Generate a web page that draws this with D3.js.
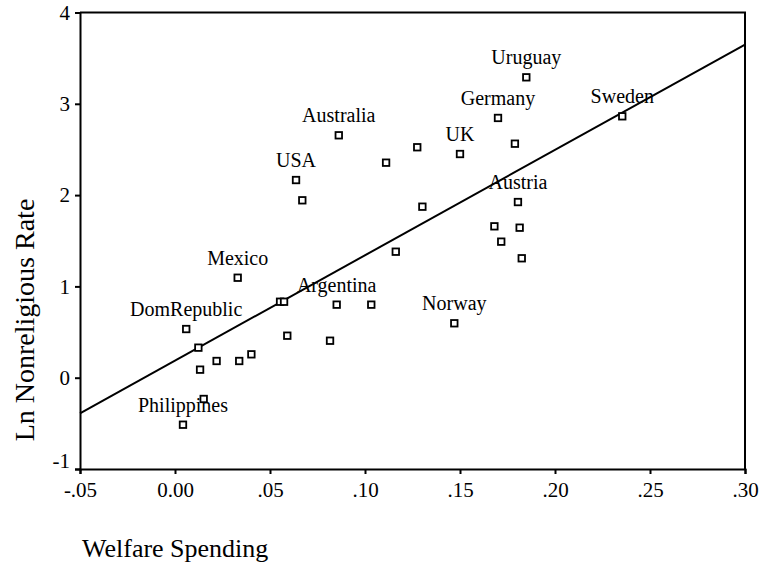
<!DOCTYPE html>
<html>
<head>
<meta charset="utf-8">
<script src="https://cdn.jsdelivr.net/npm/d3@7"></script>
<style>
  html, body { margin: 0; padding: 0; background: #fff; }
  svg { display: block; }
  text { font-family: "Liberation Serif", "Times New Roman", serif; fill: #000; }
</style>
</head>
<body>
<svg id="chart" width="760" height="569"></svg>
<script>
// Country observations: welfare spending vs. log of the nonreligious rate
const countries = [
  "Uruguay", "Germany", "Sweden", "Australia", "UK", "", "", "",
  "USA", "", "", "Austria", "", "", "", "", "", "Mexico", "", "",
  "Argentina", "", "Norway", "DomRepublic", "", "", "", "", "", "",
  "", "", "Philippines"
];
const welfare = [
  0.1849, 0.1700, 0.2354, 0.0862, 0.1500, 0.1275, 0.1111, 0.1789,
  0.0637, 0.0670, 0.1302, 0.1805, 0.1681, 0.1814, 0.1717, 0.1825, 0.1162, 0.0330, 0.0553, 0.0574,
  0.0851, 0.1033, 0.1470, 0.0059, 0.0591, 0.0816, 0.0123, 0.0402, 0.0219, 0.0338,
  0.0132, 0.0151, 0.0042
];
const lnNonreligious = [
  3.290, 2.845, 2.863, 2.655, 2.450, 2.524, 2.355, 2.563,
  2.165, 1.943, 1.873, 1.924, 1.658, 1.643, 1.490, 1.308, 1.380, 1.095, 0.832, 0.832,
  0.800, 0.800, 0.596, 0.533, 0.460, 0.405, 0.329, 0.256, 0.183, 0.183,
  0.088, -0.233, -0.515
];

// Fitted linear trend
const fitIntercept = 0.187;
const fitSlope = 11.54;

// Axis ticks and their labels
const xTicks = [-0.05, 0.00, 0.05, 0.10, 0.15, 0.20, 0.25, 0.30];
const xTickLabels = ["-.05", "0.00", ".05", ".10", ".15", ".20", ".25", ".30"];
const yTicks = [-1, 0, 1, 2, 3, 4];
const yTickLabels = ["-1", "0", "1", "2", "3", "4"];

const xTitle = "Welfare Spending";
const yTitle = "Ln Nonreligious Rate";

const svg = d3.select("#chart");
const plot = { left: 80, right: 745, top: 12.5, bottom: 469 };

const x = d3.scaleLinear().domain([-0.05, 0.30]).range([plot.left, plot.right]);
const y = d3.scaleLinear().domain([-1, 4]).range([plot.bottom, plot.top]);

// Frame: top and right edges
svg.append("path")
  .attr("d", `M${plot.left},${plot.top}H${plot.right}V${plot.bottom}`)
  .attr("fill", "none").attr("stroke", "#000").attr("stroke-width", 2);

// Bottom axis
const xAxis = svg.append("g")
  .attr("transform", `translate(0,${plot.bottom})`)
  .call(d3.axisBottom(x).tickValues(xTicks)
    .tickFormat((d, i) => xTickLabels[i]).tickSize(5).tickPadding(8));
xAxis.select(".domain").attr("stroke-width", 2);
xAxis.selectAll(".tick line").attr("stroke-width", 2);
xAxis.selectAll(".tick text")
  .attr("font-size", 21)
  .style("font-family", "'Liberation Serif', serif");

// Left axis
const yAxis = svg.append("g")
  .attr("transform", `translate(${plot.left},0)`)
  .call(d3.axisLeft(y).tickValues(yTicks)
    .tickFormat((d, i) => yTickLabels[i]).tickSize(5).tickPadding(5));
yAxis.select(".domain").attr("stroke-width", 2);
yAxis.selectAll(".tick line").attr("stroke-width", 2);
yAxis.selectAll(".tick text")
  .attr("font-size", 21)
  .style("font-family", "'Liberation Serif', serif")
  .attr("dy", d => d === -1 ? "-0.05em" : "0.32em");

// Axis titles
svg.append("text")
  .attr("x", 82).attr("y", 557)
  .attr("font-size", 26)
  .text(xTitle);

svg.append("text")
  .attr("transform", "translate(34,320) rotate(-90)")
  .attr("text-anchor", "middle")
  .attr("font-size", 28)
  .text(yTitle);

const rows = welfare.map((w, i) => ({ name: countries[i], w, v: lnNonreligious[i] }));

// Country labels above their markers
svg.append("g").selectAll("text")
  .data(rows.filter(d => d.name))
  .join("text")
  .attr("x", d => x(d.w))
  .attr("y", d => y(d.v) - 13)
  .attr("text-anchor", "middle")
  .attr("font-size", 20)
  .text(d => d.name);

// Trend line across the full x range
const xd = x.domain();
svg.append("line")
  .attr("x1", x(xd[0])).attr("y1", y(fitIntercept + fitSlope * xd[0]))
  .attr("x2", x(xd[1])).attr("y2", y(fitIntercept + fitSlope * xd[1]))
  .attr("stroke", "#000").attr("stroke-width", 2);

// Hollow square markers
const s = 6.5;
svg.append("g").selectAll("rect")
  .data(rows)
  .join("rect")
  .attr("x", d => x(d.w) - s / 2)
  .attr("y", d => y(d.v) - s / 2)
  .attr("width", s).attr("height", s)
  .attr("fill", "#fff")
  .attr("stroke", "#000")
  .attr("stroke-width", 1.8);
</script>
</body>
</html>
